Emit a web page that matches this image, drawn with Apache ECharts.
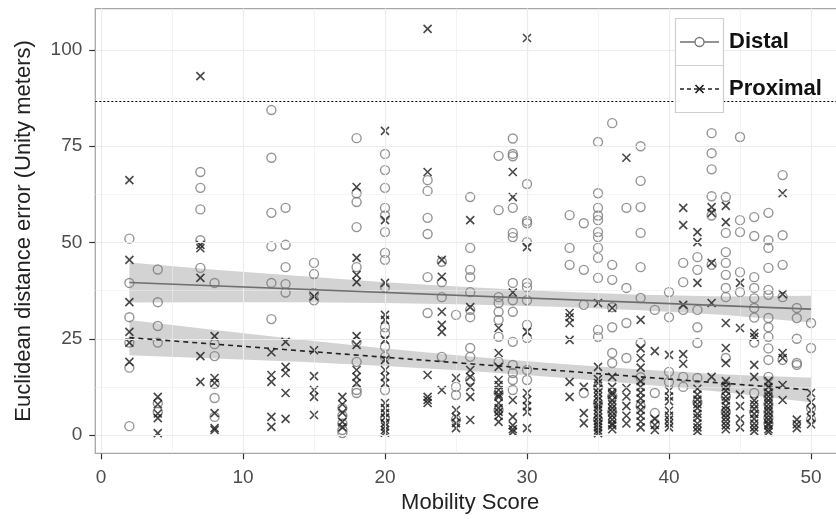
<!DOCTYPE html>
<html>
<head>
<meta charset="utf-8">
<script src="https://cdn.jsdelivr.net/npm/echarts@6/dist/echarts.min.js"></script>
<style>
  html, body { margin: 0; padding: 0; background: #fff; }
  #chart { width: 836px; height: 519px; }
</style>
</head>
<body>
<div id="chart"></div>
<script>
// mobility scores (x columns)
var scores = [2, 4, 7, 8, 12, 13, 15, 17, 18, 20, 23, 24, 25, 26, 28, 29, 30, 33, 34,
  35, 36, 37, 38, 39, 40, 41, 42, 43, 44, 45, 46, 47, 48, 49, 50];

// distal errors, one list per score
var distalErrors = [
  [51, 39.5, 30.6, 24, 17.5, 2.3],
  [43, 34.5, 28.3, 24, 8.3, 6],
  [68.3, 64.2, 58.6, 50.6, 43.4],
  [39.5, 23.6, 20.5, 13.3, 9.6, 4.7],
  [84.4, 72, 57.7, 49, 39.5, 30.1],
  [59, 49.4, 43.6, 39.2, 37],
  [44.7, 41.8, 36.9, 35],
  [7, 5, 3, 1.3, 0.5],
  [77.1, 62.8, 60.5, 54, 43.6, 24.2, 19, 11.7, 10.9],
  [73, 68.8, 64.2, 59, 57, 52.7, 47.3, 45.5, 38.4, 28, 26.5, 22.9, 20.3, 11.7, 4.4],
  [66.2, 63.4, 56.4, 52.2, 41, 31.7],
  [45, 39.7, 35.8, 20.3],
  [31.2, 12.5, 10.4, 4],
  [61.8, 48.6, 42.9, 41, 37.1, 32.5, 30.6, 22.6, 20.3, 14.3],
  [72.5, 58.4, 35.8, 34.3, 32, 29.9, 25.5, 19, 11, 6.5],
  [77, 73, 72.4, 59, 52.5, 51.4, 39.5, 35, 32, 24.2, 18.2, 16.1, 14.3, 11.7],
  [65.2, 55.6, 55, 50.1, 39.5, 38.4, 35, 28.6, 25.2, 16.9, 14.3],
  [57.1, 48.6, 44.2],
  [55, 42.9, 33.8, 10.9],
  [76.1, 62.8, 59, 57, 55.8, 52.7, 51.4, 48.6, 46, 40.8, 27.3, 25.5, 12.5, 8.3, 4],
  [81, 44.2, 40.3, 33.2, 28, 21.3, 18.7, 10, 6],
  [59, 38.2, 29.1, 20],
  [75, 66, 59.2, 52.5, 43.6, 35.6, 23.9, 15, 7.5],
  [32.5, 10.9, 5.7, 3],
  [37.1, 30.6, 16.4, 13.8],
  [44.7, 39.7, 32.5, 15.1, 12.5],
  [46.2, 42.9, 32.5, 28, 23.9, 14.8, 8.5],
  [78.4, 73.2, 69, 62, 57, 44.2],
  [61.8, 52.5, 47.5, 44.7, 41.6, 38.2, 35.8, 20, 13, 10, 6],
  [77.4, 55.8, 52.7, 42.3, 37.1],
  [56.6, 51.7, 41, 38.2, 35.5, 33, 30.5, 24, 10.9, 6],
  [57.7, 50.6, 48.6, 43.4, 37.7, 36.4, 30.4, 28, 25.5, 22.5, 19.5, 15.1, 12, 10, 8, 6, 4.5, 3],
  [67.5, 51.9, 44.2, 35.8, 19.5],
  [33, 30.4, 25, 18.7, 18.2],
  [29.1, 22.6, 7, 4]
];

// proximal errors, one list per score
var proximalErrors = [
  [66.2, 45.5, 34.5, 26.8, 24, 19],
  [9.9, 8, 5.6, 4.4, 0.5],
  [93.2, 49.4, 48.5, 40.8, 20.5, 13.8],
  [25.7, 14.8, 13.5, 5.7, 1.8, 1.3],
  [21.5, 15.6, 13.8, 4.7, 2.1],
  [24.2, 17.7, 16.1, 10.9, 4.2],
  [36, 22, 15.3, 11.7, 9.9, 5.2],
  [9.9, 8, 5.8, 3.4, 2],
  [64.4, 46, 41.6, 39.7, 25.7, 23.4, 16.9, 15.1, 13.5],
  [79, 55.8, 39.5, 31.2, 29.9, 24.7, 19.5, 16.9, 15.1, 13.5, 8.3, 7, 5.7, 4.5, 3.1, 2.2, 1.3, 0.6],
  [105.5, 68.3, 15.6, 9.9, 9.1, 8.3],
  [45.5, 41.1, 32, 28.6, 26.8, 11.7],
  [14.8, 6.5, 4.7, 3.1, 1.8],
  [55.8, 33.2, 16.9, 15.1, 12.5, 9.9, 3.9],
  [27.8, 21.3, 17.7, 14.3, 13, 11.7, 10.5, 9.9, 8.3, 7, 6, 5, 3.4],
  [68.3, 61.8, 37, 9.1, 4.7, 2.5, 1.5, 0.8],
  [103.1, 48.8, 26.8, 10.9, 9.1, 7.5, 6, 1.8],
  [31.7, 30.6, 29.1, 24.7, 13.8, 9.9],
  [12.5, 5.7, 3.1],
  [34.3, 17.7, 14.5, 13.5, 12, 11, 10, 9.1, 8, 7.3, 6.5, 5.5, 4.5, 3.6, 2.8, 2, 1.2, 0.5],
  [33, 15.1, 12.5, 11, 10.4, 9, 8, 7, 6, 5, 4, 3, 2.5, 1.5],
  [72, 12.2, 10, 7.5, 5, 3],
  [29.9, 22.5, 20, 17.5, 14, 12.5, 11, 9.5, 8, 6.5, 5, 3.5, 2],
  [21.8, 4.2, 2.6, 1.3],
  [20.8, 11.5, 10, 8.8, 6.3, 5, 4, 3, 2],
  [59, 54.5, 33.8, 21, 18.5],
  [52.7, 50.1, 39.5, 12, 10.5, 9.2, 8, 7, 5.5, 4.5, 3, 2, 1],
  [59.2, 57.7, 44.7, 34.3, 15.1],
  [59.5, 55.3, 29.1, 22.6, 18.7, 14, 12.5, 11.5, 10, 9, 7.5, 6.5, 5.5, 4.5, 3.5, 2.5, 1.5],
  [39.5, 27.8, 10.5, 7.5, 4.2, 2],
  [26.5, 25.5, 18.2, 15.1, 9, 8, 6.8, 5.5, 4.2, 3, 2, 1],
  [14, 12.5, 11, 10, 9, 8, 7, 6, 5, 4, 3, 2.5, 1.5, 0.8],
  [62.8, 36.6, 21.3, 20, 13, 9.1],
  [4, 2.8, 1.8],
  [10.9, 8.5, 6.5, 4.5, 2.8]
];

// regression lines and their confidence bands
var distalFit = [[2, 39.6], [50, 32.7]];
var proximalFit = [[2, 25.3], [50, 11.7]];
var bandX = [2, 8, 14, 20, 26, 32, 38, 44, 50];
var distalHigh = [44.8, 42.9, 41.3, 39.7, 38.4, 37.3, 36.4, 36.0, 36.2];
var distalLow = [34.4, 34.5, 34.5, 34.3, 33.9, 33.3, 32.4, 31.2, 29.2];
var proximalHigh = [29.9, 27.3, 24.8, 22.5, 20.4, 18.6, 17.0, 15.7, 14.9];
var proximalLow = [20.7, 19.9, 19.0, 17.9, 16.6, 15.0, 13.2, 11.1, 8.5];

var cutoff = 86.8;
var xTicks = [0, 10, 20, 30, 40, 50];
var yTicks = [0, 25, 50, 75, 100];
var xMinor = [5, 15, 25, 35, 45];
var yMinor = [12.5, 37.5, 62.5, 87.5];

var crossPath = "path://M0,0L10,10M10,0L0,10";

function toPoints(values) {
  var pts = [];
  scores.forEach(function (s, i) {
    values[i].forEach(function (v) { pts.push([s, v]); });
  });
  return pts;
}

function bandSeries(low, high) {
  return {
    type: "custom",
    silent: true,
    z: 1,
    data: [[bandX[0], low[0]]],
    renderItem: function (params, api) {
      var pts = [];
      for (var i = 0; i < bandX.length; i++) pts.push(api.coord([bandX[i], high[i]]));
      for (var j = bandX.length - 1; j >= 0; j--) pts.push(api.coord([bandX[j], low[j]]));
      return {
        type: "polygon",
        shape: { points: pts },
        style: { fill: "rgba(150,150,150,0.42)" }
      };
    }
  };
}

// grid lines of the panel
var gridLines = [];
yTicks.forEach(function (v) { gridLines.push({ yAxis: v, lineStyle: { width: 1.2 } }); });
yMinor.forEach(function (v) { gridLines.push({ yAxis: v, lineStyle: { width: 0.6 } }); });
xTicks.forEach(function (v) { gridLines.push({ xAxis: v, lineStyle: { width: 1.2 } }); });
xMinor.forEach(function (v) { gridLines.push({ xAxis: v, lineStyle: { width: 0.6 } }); });

var myChart = echarts.init(document.getElementById("chart"));
myChart.setOption({
  animation: false,
  backgroundColor: "#fff",
  textStyle: { fontFamily: "Liberation Sans" },
  grid: {
    left: 95.3,
    right: -9.1,
    top: 8.6,
    bottom: 65.7,
    show: true,
    backgroundColor: "#fff",
    borderColor: "#a6a6a6",
    borderWidth: 1.3,
    outerBoundsMode: "none"
  },
  xAxis: {
    type: "value",
    min: -0.4,
    max: 52.4,
    name: "Mobility Score",
    nameLocation: "middle",
    nameGap: 37,
    nameTextStyle: { color: "#222", fontSize: 22 },
    axisLine: { show: false, onZero: false },
    axisTick: { show: true, length: 6, customValues: xTicks, lineStyle: { color: "#333", width: 1.2 } },
    axisLabel: { customValues: xTicks, color: "#4d4d4d", fontSize: 19, margin: 15 },
    splitLine: { show: false }
  },
  yAxis: {
    type: "value",
    min: -4.75,
    max: 110.75,
    name: "Euclidean distance error (Unity meters)",
    nameLocation: "middle",
    nameGap: 60,
    nameTextStyle: { color: "#222", fontSize: 22 },
    axisLine: { show: false, onZero: false },
    axisTick: { show: true, length: 6, customValues: yTicks, lineStyle: { color: "#333", width: 1.2 } },
    axisLabel: { customValues: yTicks, color: "#4d4d4d", fontSize: 19, margin: 13 },
    splitLine: { show: false }
  },
  series: [
    {
      name: "grid",
      type: "line",
      data: [],
      z: 0,
      silent: true,
      markLine: {
        silent: true,
        symbol: ["none", "none"],
        label: { show: false },
        lineStyle: { color: "#ececec", type: "solid" },
        data: gridLines
      }
    },
    bandSeries(distalLow, distalHigh),
    bandSeries(proximalLow, proximalHigh),
    {
      name: "Distal",
      type: "scatter",
      z: 3,
      symbol: "circle",
      symbolSize: 9,
      itemStyle: { color: "rgba(0,0,0,0)", borderColor: "#7a7a7a", borderWidth: 1.4 },
      data: toPoints(distalErrors)
    },
    {
      name: "Proximal",
      type: "scatter",
      z: 4,
      symbol: crossPath,
      symbolSize: 8,
      itemStyle: { color: "rgba(0,0,0,0)", borderColor: "#1a1a1a", borderWidth: 1.6 },
      data: toPoints(proximalErrors),
      markLine: {
        silent: true,
        symbol: ["none", "none"],
        label: { show: false },
        lineStyle: { color: "#000", type: [2, 2], width: 1 },
        data: [{ yAxis: cutoff }]
      }
    },
    {
      name: "Distal fit",
      type: "line",
      z: 5,
      symbol: "none",
      lineStyle: { color: "#6e6e6e", width: 1.6 },
      data: distalFit
    },
    {
      name: "Proximal fit",
      type: "line",
      z: 5,
      symbol: "none",
      lineStyle: { color: "#222", width: 1.6, type: [5, 4] },
      data: proximalFit
    }
  ],
  //legend drawn by hand like the ggplot key boxes
  graphic: [
    { type: "rect", z: 100, shape: { x: 675.5, y: 18.5, width: 48, height: 47 },
      style: { fill: "#fff", stroke: "#cfcfcf", lineWidth: 1.2 } },
    { type: "rect", z: 100, shape: { x: 675.5, y: 65.5, width: 48, height: 47 },
      style: { fill: "#fff", stroke: "#cfcfcf", lineWidth: 1.2 } },
    { type: "line", z: 101, shape: { x1: 680, y1: 42, x2: 719, y2: 42 },
      style: { stroke: "#6e6e6e", lineWidth: 1.6 } },
    { type: "circle", z: 102, shape: { cx: 699.5, cy: 42, r: 4.5 },
      style: { fill: "#fff", stroke: "#7a7a7a", lineWidth: 1.4 } },
    { type: "line", z: 101, shape: { x1: 680, y1: 89, x2: 719, y2: 89 },
      style: { stroke: "#222", lineWidth: 1.6, lineDash: [4, 3] } },
    { type: "polyline", z: 102, shape: { points: [[695.5, 85], [703.5, 93]] },
      style: { stroke: "#1a1a1a", lineWidth: 1.6 } },
    { type: "polyline", z: 102, shape: { points: [[703.5, 85], [695.5, 93]] },
      style: { stroke: "#1a1a1a", lineWidth: 1.6 } },
    { type: "text", z: 102, x: 729, y: 42,
      style: { text: "Distal", fill: "#111", font: "bold 22px 'Liberation Sans'", verticalAlign: "middle" } },
    { type: "text", z: 102, x: 729, y: 89,
      style: { text: "Proximal", fill: "#111", font: "bold 22px 'Liberation Sans'", verticalAlign: "middle" } }
  ]
});
</script>
</body>
</html>
